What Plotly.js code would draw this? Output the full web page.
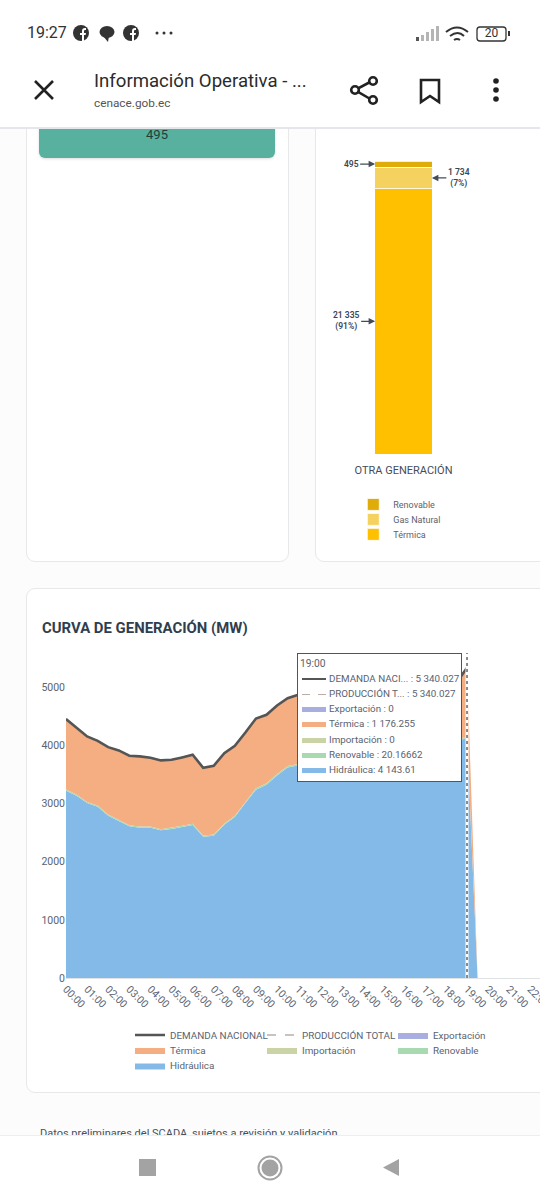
<!DOCTYPE html>
<html><head><meta charset="utf-8">
<script src="https://cdn.plot.ly/plotly-3.0.1.min.js"></script>
<style>
html,body{margin:0;padding:0;width:540px;height:1200px;overflow:hidden;background:#fcfcfc;font-family:Roboto,sans-serif}
.a{position:absolute}
.card{position:absolute;background:#fff;border:1px solid #e6e8ea;border-radius:9px;box-sizing:border-box}
#tip{position:absolute;left:297px;top:653px;width:165px;height:129px;background:#fff;border:1px solid #555;box-sizing:border-box;font-size:9.8px;color:#5b6270;z-index:5}
#tip .r{position:absolute;left:31px;white-space:nowrap}
#tip .s{position:absolute;left:4px;width:24px}
</style></head><body>
<div class="card" style="left:26px;top:100px;width:263px;height:462px"></div>
<div class="card" style="left:315px;top:100px;width:300px;height:462px"></div>
<div class="card" style="left:26px;top:588px;width:600px;height:505px"></div>
<div class="a" style="left:39px;top:110px;width:236px;height:48px;background:#58b19e;border-radius:6px;box-shadow:0 1px 3px #0002"></div>
<div class="a" style="left:39px;top:127px;width:236px;text-align:center;font-size:13px;color:#1f3f3a">495</div>
<div id="bar" class="a" style="left:315px;top:130px;width:225px;height:425px"></div>
<div id="curve" class="a" style="left:0;top:590px;width:562px;height:500px"></div>
<div id="tip"></div>
<div class="a" style="left:40px;top:1127px;font-size:11px;color:#4a4f57;white-space:nowrap">Datos preliminares del SCADA, sujetos a revisión y validación</div>
<div class="a" style="left:0;top:0;width:540px;height:129px;background:#fff;border-bottom:2px solid #e4e6ea;box-sizing:border-box;z-index:6">
 <div class="a" style="left:27px;top:23px;font-size:16px;color:#333">19:27</div>
 <svg class="a" style="left:0;top:0" width="540" height="129">
  <g fill="#333"><circle cx="81" cy="33" r="8"/><circle cx="131" cy="33" r="8"/><ellipse cx="107" cy="32" rx="7.500" ry="6"/><path d="M103 36l5 6 1-6z"/>
  <circle cx="157" cy="33" r="1.5"/><circle cx="164" cy="33" r="1.5"/><circle cx="171" cy="33" r="1.5"/></g>
  <g fill="#fff"><path d="M82 41v-6h-2v-2h2v-2q0-3 3-3h1v2h-1q-1 0-1 1v2h2l-.4 2h-1.600v6z"/><path d="M132 41v-6h-2v-2h2v-2q0-3 3-3h1v2h-1q-1 0-1 1v2h2l-.4 2h-1.600v6z"/></g>
  <g fill="#b5b5b5"><rect x="416" y="37" width="3" height="4" fill="#555"/><rect x="421" y="35" width="3" height="6"/><rect x="426" y="32" width="3" height="9"/><rect x="431" y="29" width="3" height="12"/><rect x="436" y="26" width="3" height="15"/></g>
  <g fill="none" stroke="#333" stroke-width="2"><path d="M446 32q11-9 22 0"/><path d="M450 36q8-6 14 0"/><path d="M454 40q3-2 6 0"/></g>
  <rect x="477" y="27" width="29" height="14" rx="3" fill="none" stroke="#333" stroke-width="1.300"/><rect x="508" y="31" width="2" height="5" fill="#333"/>
  <g stroke="#222" stroke-width="2.600" fill="none"><path d="M35 81l18 18M53 81l-18 18"/>
  <path d="M372 81l-17 9 17 10"/><circle cx="373" cy="81" r="3.800" fill="#fff"/><circle cx="355" cy="90" r="3.800" fill="#fff"/><circle cx="373" cy="100" r="3.800" fill="#fff"/>
  <path d="M421 80h18v22l-9-6-9 6z"/></g>
  <g fill="#222"><circle cx="496" cy="81" r="2.800"/><circle cx="496" cy="90" r="2.800"/><circle cx="496" cy="99" r="2.800"/></g>
 </svg>
 <div class="a" style="left:477px;top:26px;width:29px;text-align:center;font-size:12px;color:#333">20</div>
 <div class="a" style="left:94px;top:70px;font-size:18.6px;color:#2b2b2b;white-space:nowrap">Información Operativa - ...</div>
 <div class="a" style="left:94px;top:96px;font-size:11.800px;color:#555">cenace.gob.ec</div>
</div>
<div class="a" style="left:0;top:1135px;width:540px;height:65px;background:#fff;z-index:6;border-top:1px solid #eee;box-sizing:border-box">
 <svg width="540" height="65"><rect x="139" y="23" width="17" height="17" fill="#a3a3a3"/>
 <circle cx="270" cy="32" r="11.500" fill="none" stroke="#a3a3a3" stroke-width="2"/><circle cx="270" cy="32" r="8.500" fill="#a3a3a3"/>
 <path d="M399 23v17l-16-8.500z" fill="#a3a3a3"/></svg>
</div>
<script>
const barCategory = ['OTRA GENERACIÓN'];
const barNames = ['Térmica', 'Gas Natural', 'Renovable'];
const barValues = [21335, 1734, 495];
const barColors = ['#FFC000', '#F5D25F', '#E0AC0A'];

const times = ['00:00','00:30','01:00','01:30','02:00','02:30','03:00','03:30','04:00','04:30','05:00','05:30','06:00','06:30','07:00','07:30','08:00','08:30','09:00','09:30','10:00','10:30','11:00','11:30','12:00','12:30','13:00','13:30','14:00','14:30','15:00','15:30','16:00','16:30','17:00','17:30','18:00','18:30','19:00','19:30'];
const allCategories = times.concat(['20:00','20:30','21:00','21:30','22:00','22:30','23:00','23:30']);
const hourTicks = ['00:00','01:00','02:00','03:00','04:00','05:00','06:00','07:00','08:00','09:00','10:00','11:00','12:00','13:00','14:00','15:00','16:00','17:00','18:00','19:00','20:00','21:00','22:00','23:00'];
const demanda = [4456,4312,4158,4083,3974,3917,3825,3814,3791,3745,3756,3797,3842,3619,3653,3871,3997,4226,4467,4530,4691,4817,4874,4890,4900,4905,4890,4875,4860,4850,4840,4830,4810,4800,4810,4860,4950,5080,5340];
const produccion = [4456,4312,4158,4083,3974,3917,3825,3814,3791,3745,3756,3797,3842,3619,3653,3871,3997,4226,4467,4530,4691,4817,4874,4890,4900,4905,4890,4875,4860,4850,4840,4830,4810,4800,4810,4860,4950,5080,5340];
const hidraulica = [3223,3138,3011,2948,2794,2708,2610,2587,2587,2542,2564,2599,2633,2433,2450,2639,2771,3011,3241,3327,3487,3625,3659,3700,3730,3750,3760,3780,3790,3800,3810,3820,3830,3850,3880,3930,3990,4060,4143.61,0];
const renovable = [20,20,20,20,20,20,20,20,20,20,20,20,20,20,20,20,20,20,25,25,25,25,25,25,25,25,25,25,25,25,25,25,25,25,22,20,20,20,20.17,0];
const termica = [1213,1154,1127,1115,1160,1189,1195,1207,1184,1183,1172,1178,1189,1166,1183,1212,1206,1195,1201,1178,1179,1167,1190,1165,1145,1130,1105,1070,1045,1025,1005,985,955,925,908,910,940,1000,1176.255,0];
const importacion = [0,0,0,0,0,0,0,0,0,0,0,0,0,0,0,0,0,0,0,0,0,0,0,0,0,0,0,0,0,0,0,0,0,0,0,0,0,0,0,0];
const exportacion = [0,0,0,0,0,0,0,0,0,0,0,0,0,0,0,0,0,0,0,0,0,0,0,0,0,0,0,0,0,0,0,0,0,0,0,0,0,0,0,0];
const tipRows = [['DEMANDA NACI... : 5 340.027','#555555',2.6,false],['PRODUCCIÓN T... : 5 340.027','#b8b0a8',1.4,true],['Exportación : 0','#A8AEDF',5],['Térmica : 1 176.255','#F4AE82',5],['Importación : 0','#C9D3A5',5],['Renovable : 20.16662','#A8D9B0',5],['Hidráulica: 4 143.61','#84BAE8',5]];
const tipTime = '19:00';

const txt = '#5b6270';
const font = {family:'Roboto, sans-serif', size:10.5, color:txt};
const oneLegend = (x,y,size)=>({x,y,xanchor:'left',yanchor:'middle',font:{size,color:txt},itemwidth:30,bgcolor:'rgba(0,0,0,0)',borderwidth:0});

// Stacked bar
const barPlotW = 176, barPlotH = 293.5, barLeft = 315.5, barBottom = 454;
const bx = px => (px-barLeft)/barPlotW, by = py => (barBottom-py)/barPlotH;
const barBase = barValues[0] + barValues[1] + barValues[2];
const annFont = {size:8.500,color:'#3a4656',weight:600};
const annArrow = {showarrow:true,arrowhead:2,arrowsize:1,arrowwidth:1.3,arrowcolor:'#444c5a',ay:0,xref:'x',yref:'y',font:annFont};
Plotly.newPlot('bar', barNames.map((n,i)=>({type:'bar', name:n, x:barCategory, y:[barValues[i]], legend:i?'legend'+(i+1):'legend', marker:{color:barColors[i],line:{color:'#ffffff',width:0.8}}, hoverinfo:'none'})), {
  width:225, height:425, barmode:'stack', bargap:0.672, showlegend:true,
  margin:{l:0.5,r:48.5,t:30.5,b:101,autoexpand:false}, paper_bgcolor:'rgba(0,0,0,0)', plot_bgcolor:'rgba(0,0,0,0)', font:font,
  xaxis:{range:[-0.5,0.5], showline:false, ticks:'', tickfont:{size:11,color:'#444c5a'}, ticklabelstandoff:8, fixedrange:true},
  yaxis:{range:[0,barBase], visible:false, fixedrange:true},
  legend:oneLegend(bx(353),by(534.5),9),
  legend2:oneLegend(bx(353),by(519.5),9),
  legend3:oneLegend(bx(353),by(504.5),9),
  annotations:[
   Object.assign({x:-0.162,y:barValues[0]+barValues[1]+barValues[2]/2,text:'495',ax:-24},annArrow),
   Object.assign({x:-0.162,y:barValues[0]/2,text:'21 335<br>(91%)',ax:-29},annArrow),
   Object.assign({x:0.162,y:barValues[0]+barValues[1]/2,text:'1 734<br>(7%)',ax:27},annArrow)
  ]
},{displayModeBar:false,staticPlot:true});

// Area chart
const cx = px => (px-66)/496, cy = py => (978-py)/325;
const area = (name,y,color,lg)=>({type:'scatter',mode:'lines',name,x:times,y,stackgroup:'g',fillcolor:color,line:{width:0,color},hoverinfo:'none',legend:lg,showlegend:true});
const line = (name,y,color,width,dash,lg)=>({type:'scatter',mode:'lines',name,x:times,y,line:{color,width,dash},hoverinfo:'none',legend:lg,showlegend:true});
Plotly.newPlot('curve',[
  area('Hidráulica',hidraulica,'#84BAE8','legend'),
  area('Renovable',renovable,'#A8D9B0','legend2'),
  area('Importación',importacion,'#C9D3A5','legend3'),
  area('Térmica',termica,'#F4AE82','legend4'),
  area('Exportación',exportacion,'#A8AEDF','legend5'),
  line('PRODUCCIÓN TOTAL',produccion,'#b8b0a8',1.5,'dash','legend6'),
  line('DEMANDA NACIONAL',demanda,'#555555',2.6,'solid','legend7')
],{
  width:562, height:500, margin:{l:66,r:0,t:63,b:112,autoexpand:false}, paper_bgcolor:'rgba(0,0,0,0)', plot_bgcolor:'rgba(0,0,0,0)', font:font, showlegend:true,
  title:{text:'<b>CURVA DE GENERACIÓN (MW)</b>',x:42/562,xanchor:'left',xref:'container',y:1-38/500,yanchor:'middle',font:{size:14.9,color:'#2f3e4e',family:'Roboto, sans-serif'}},
  xaxis:{type:'category',categoryorder:'array',categoryarray:allCategories,range:[0,47],tickmode:'array',tickvals:hourTicks,ticktext:hourTicks,tickangle:45,showgrid:false,zeroline:false,showline:true,linecolor:'#dfe3e6',ticks:'',tickfont:{size:10.500,color:txt},fixedrange:true},
  yaxis:{range:[0,5594],tickvals:[0,1000,2000,3000,4000,5000],showgrid:false,zeroline:false,showline:false,ticks:'',tickfont:{size:10.500,color:txt},fixedrange:true},
  shapes:[
   {type:'line',xref:'x',yref:'paper',x0:'19:00',x1:'19:00',y0:0,y1:1,line:{color:'#ffffff',width:3}},
   {type:'line',xref:'x',yref:'paper',x0:'19:00',x1:'19:00',y0:0,y1:1,line:{color:'#666666',width:1.5,dash:'dot'}}
  ],
  legend7:oneLegend(cx(130),cy(1035),9.9),
  legend6:oneLegend(cx(262),cy(1035),9.9),
  legend5:oneLegend(cx(393),cy(1035),9.9),
  legend4:oneLegend(cx(130),cy(1050),9.9),
  legend3:oneLegend(cx(262),cy(1050),9.9),
  legend2:oneLegend(cx(393),cy(1050),9.9),
  legend:oneLegend(cx(130),cy(1065.5),9.9)
},{displayModeBar:false,staticPlot:true});

// Tooltip (real text)
const tip = document.getElementById('tip');
let h = '<div class="r" style="left:2px;top:3px;font-size:10.3px">'+tipTime+'</div>';
tipRows.forEach((r,i)=>{
  const y = 25 + i*15.33;
  const style = r[3] ? 'height:'+r[2]+'px;background:repeating-linear-gradient(90deg,'+r[1]+' 0 8px,transparent 8px 16px)' : 'height:'+r[2]+'px;background:'+r[1];
  h += '<div class="s" style="top:'+(y-r[2]/2)+'px;'+style+'"></div><div class="r" style="top:'+(y-6.5)+'px">'+r[0]+'</div>';
});
tip.innerHTML = h;
</script>
</body></html>
